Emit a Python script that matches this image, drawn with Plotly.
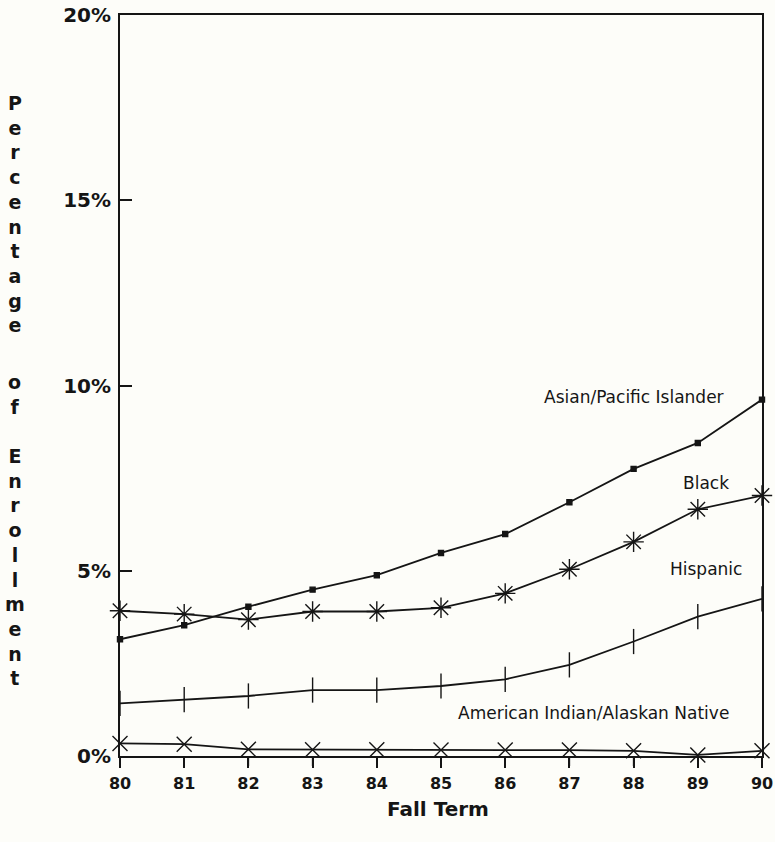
import plotly.graph_objects as go

years = [80, 81, 82, 83, 84, 85, 86, 87, 88, 89, 90]
year_labels = ["80", "81", "82", "83", "84", "85", "86", "87", "88", "89", "90"]

asian = [3.15, 3.53, 4.03, 4.49, 4.88, 5.48, 5.99, 6.85, 7.75, 8.45, 9.62]
black = [3.92, 3.83, 3.68, 3.90, 3.90, 4.00, 4.39, 5.04, 5.78, 6.66, 7.03]
hispanic = [1.42, 1.52, 1.62, 1.78, 1.78, 1.89, 2.07, 2.46, 3.09, 3.76, 4.24]
amind = [0.34, 0.32, 0.18, 0.17, 0.17, 0.16, 0.16, 0.16, 0.14, 0.03, 0.14]

y_ticks = [0, 5, 10, 15, 20]
y_tick_labels = ["0%", "5%", "10%", "15%", "20%"]

INK = "#151515"
BG = "#fdfdf9"

fig = go.Figure()

def add(series, name, symbol, size, width=1.8):
    fig.add_trace(go.Scatter(
        x=years, y=series, name=name, mode="lines+markers",
        line=dict(color=INK, width=width),
        marker=dict(symbol=symbol, size=size, color=INK,
                    line=dict(color=INK, width=1.4)),
        cliponaxis=False, showlegend=False,
    ))

add(asian, "Asian/Pacific Islander", "square", 5)
add(black, "Black", "asterisk-open", 17)
add(hispanic, "Hispanic", "line-ns-open", 18)
add(amind, "American Indian/Alaskan Native", "x-thin-open", 15)

label_font = dict(family="DejaVu Sans", size=17, color=INK)
labels = [
    ("Asian/Pacific Islander", 88.0, 9.69),
    ("Black", 89.13, 7.37),
    ("Hispanic", 89.12, 5.05),
    ("American Indian/Alaskan Native", 87.38, 1.16),
]
annotations = []
for text, x, y in labels:
    annotations.append(dict(text=text, x=x, y=y, xref="x", yref="y",
                            xanchor="center", yanchor="middle",
                            showarrow=False, font=label_font))

title_font = dict(family="DejaVu Sans", size=19, color=INK, weight="bold")
for word, yp in [("Percentage", 0.7321), ("of", 0.4885), ("Enrollment", 0.2544)]:
    annotations.append(dict(text="<br>".join(list(word)), x=-0.1636, y=yp,
                            xref="paper", yref="paper", xanchor="center",
                            yanchor="middle", showarrow=False, font=title_font,
                            align="center"))

annotations.append(dict(text="Fall Term", x=0.495, y=-0.0715, xref="paper",
                        yref="paper", xanchor="center", yanchor="middle",
                        showarrow=False,
                        font=dict(family="DejaVu Sans", size=20, color=INK, weight="bold")))

# outside tick marks on the year axis, one per tick value
tick_shapes = [dict(type="line", xref="x", yref="paper", x0=yr, x1=yr,
                    y0=0, y1=-10 / 741, line=dict(color=INK, width=1.5))
               for yr in years]

fig.update_layout(
    width=775, height=842,
    margin=dict(l=120, r=13, t=15, b=86, autoexpand=False),
    paper_bgcolor=BG, plot_bgcolor=BG,
    annotations=annotations,
    shapes=tick_shapes,
    xaxis=dict(range=[80, 90], tickmode="array", tickvals=years, ticktext=year_labels,
               ticks="outside", ticklen=10, tickwidth=1.5, tickcolor=INK,
               showline=True, linecolor=INK, linewidth=2, mirror=True,
               showgrid=False, zeroline=False, automargin=False, ticklabelstandoff=2,
               tickfont=dict(family="DejaVu Sans", size=16, color=INK, weight="bold")),
    yaxis=dict(range=[0, 20], tickmode="array", tickvals=y_ticks, ticktext=y_tick_labels,
               ticks="inside", ticklen=12, tickwidth=1.5, tickcolor=INK,
               showline=True, linecolor=INK, linewidth=2, mirror=True,
               showgrid=False, zeroline=False, ticklabelstandoff=3, automargin=False,
               tickfont=dict(family="DejaVu Sans", size=20, color=INK, weight="bold")),
)

fig.write_html("out.html", config={"displayModeBar": False},
               post_script="document.body.style.margin='0';document.body.style.background='%s';" % BG)
